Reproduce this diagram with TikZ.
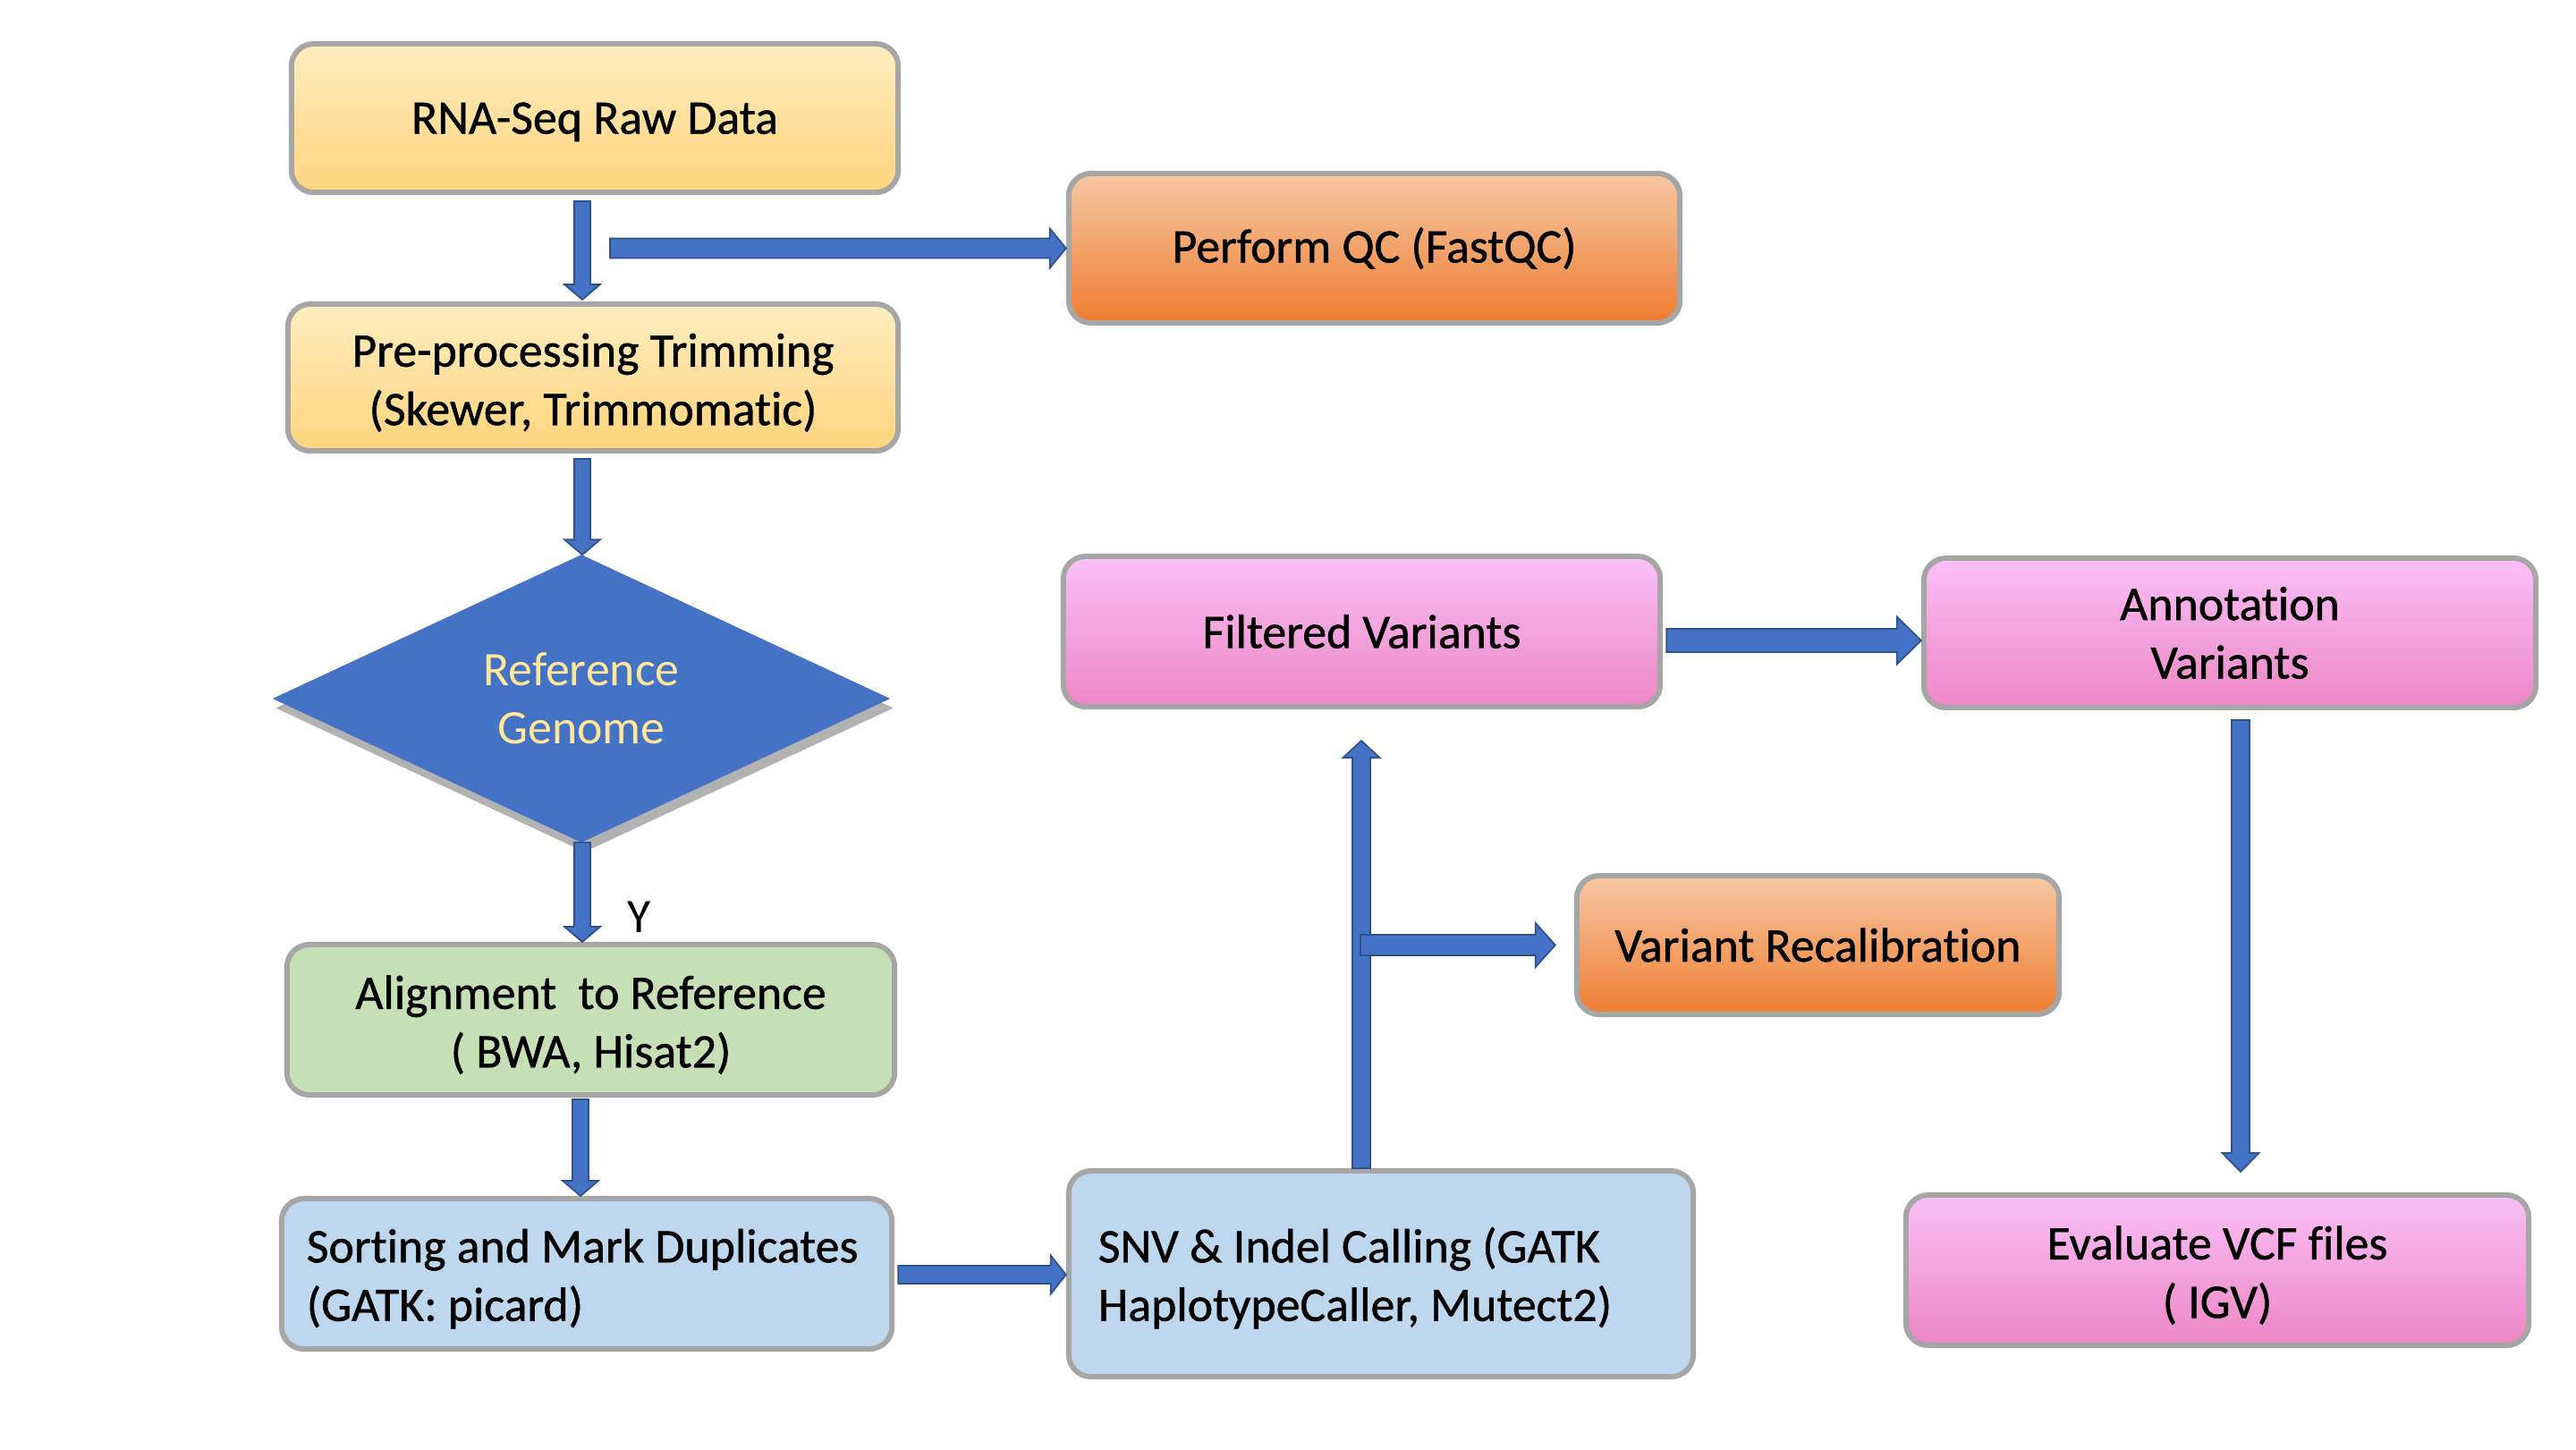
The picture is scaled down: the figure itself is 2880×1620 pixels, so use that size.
\documentclass[tikz,border=0pt]{standalone}
\usepackage{fontspec}
\setmainfont{Carlito}[Ligatures=NoCommon]
\newfontfamily\boxfont{Carlito}[FakeBold=0.9, Ligatures=NoCommon]
\usetikzlibrary{shapes.geometric,calc,shadows}
\definecolor{bordergray}{RGB}{166,166,166}
\definecolor{arrowblue}{RGB}{68,114,196}
\definecolor{arrowedge}{RGB}{47,82,143}
\definecolor{yeltop}{RGB}{255,237,192}
\definecolor{yelbot}{RGB}{255,212,125}
\definecolor{ortop}{RGB}{247,200,164}
\definecolor{orbot}{RGB}{237,125,49}
\definecolor{pktop}{RGB}{250,192,248}
\definecolor{pkbot}{RGB}{236,134,196}
\definecolor{grn}{RGB}{197,224,180}
\definecolor{lblue}{RGB}{189,215,238}
\definecolor{diatext}{RGB}{255,230,153}
\newcommand\strt{\rule{0pt}{13.8pt}}
% block arrow: #1 start, #2 tip, #3 half shaft, #4 half head, #5 head length
\newcommand\blkarrow[5]{%
  \coordinate (ba) at ($(#2)!#5!(#1)$);
  \filldraw[blkarr] ($(#1)!#3!90:(#2)$) -- ($(ba)!#3!90:(#2)$) -- ($(ba)!#4!90:(#2)$) -- (#2)
    -- ($(ba)!#4!-90:(#2)$) -- ($(ba)!#3!-90:(#2)$) -- ($(#1)!#3!-90:(#2)$) -- cycle;}
\begin{document}
\begin{tikzpicture}[x=0.01cm,y=-0.01cm,
  box/.style={draw=bordergray, line width=1.7pt, rounded corners=0.25cm, align=center,
    inner sep=0pt, outer sep=0pt, font=\boxfont\fontsize{15.3}{18.6}\selectfont, text=black},
  sz/.style 2 args={minimum width=#1, minimum height=#2},
  lowtext/.style={execute at begin node={\rule{0pt}{13.8pt}}},
  yel/.style={box, top color=yeltop, bottom color=yelbot},
  org/.style={box, top color=ortop, bottom color=orbot},
  pnk/.style={box, top color=pktop, bottom color=pkbot},
  grnbox/.style={box, fill=grn},
  bluebox/.style={box, fill=lblue},
  blkarr/.style={fill=arrowblue, draw=arrowedge, line width=0.5pt, line join=miter},
  decision/.style={diamond, fill=arrowblue, inner sep=0pt, outer sep=0pt, align=center,
    font=\fontsize{15.3}{18.6}\selectfont, text=diatext,
    drop shadow={shadow xshift=1pt, shadow yshift=-3pt, opacity=0.3, fill=black}},
  lbl/.style={font=\fontsize{15.3}{18.6}\selectfont, text=black, inner sep=0pt}]
\useasboundingbox (0,0) rectangle (2880,1620);

% nodes
\node[yel, sz={6.78cm}{1.66cm}, text depth=0pt] (rna) at (665,132) {RNA-Seq Raw Data};
\node[org, sz={6.83cm}{1.67cm}] (qc) at (1536.5,277.5) {Perform QC (FastQC)};
\node[yel, sz={6.82cm}{1.64cm}] (pre) at (663,422) {\strt Pre-processing Trimming\\(Skewer, Trimmomatic)};
\node[decision, minimum width=6.9cm, minimum height=3.18cm] (dia) at (650,781) {Reference\\Genome};
\node[grnbox, sz={6.79cm}{1.68cm}] (aln) at (660.5,1140) {\strt Alignment\ \ to Reference\\( BWA, Hisat2)};
\node[bluebox, sz={6.82cm}{1.68cm}, text width=6.26cm, align=flush left, lowtext] (sort) at (656,1424) {\mbox{Sorting and Mark Duplicates}\\\mbox{(GATK: picard)}};
\node[bluebox, sz={6.98cm}{2.30cm}, text width=6.32cm, align=flush left, lowtext] (snv) at (1544,1424) {\mbox{SNV \& Indel Calling (GATK}\\\mbox{HaplotypeCaller, Mutect2)}};
\node[pnk, sz={6.67cm}{1.68cm}] (filt) at (1522.5,706) {Filtered Variants};
\node[pnk, sz={6.84cm}{1.67cm}] (ann) at (2493,707.5) {Annotation\\Variants};
\node[org, sz={5.39cm}{1.55cm}] (recal) at (2032.5,1056.5) {Variant Recalibration};
\node[pnk, sz={6.96cm}{1.68cm}] (eval) at (2479,1420) {\strt Evaluate VCF files\\( IGV)};
\node[lbl] (ylab) at (715,1025) {Y};

% connector end points
\coordinate (a1s) at ($(rna.south)+(-14,10)$);
\coordinate (a1t) at ($(pre.north)+(-12,-5)$);
\coordinate (a2s) at ($(rna.south)+(17,62.5)$);
\coordinate (a2t) at ($(qc.west)+(-3,0)$);
\coordinate (a3s) at ($(pre.south)+(-12,9)$);
\coordinate (a3t) at ($(dia.north)+(1,0)$);
\coordinate (a4s) at ($(dia.south)+(1,0)$);
\coordinate (a4t) at ($(aln.north)+(-9.5,-3)$);
\coordinate (a5s) at ($(aln.south)+(-11.5,5)$);
\coordinate (a5t) at ($(sort.north)+(-7,-3)$);
\coordinate (a6s) at ($(sort.east)+(7,1)$);
\coordinate (a6t) at ($(snv.west)+(-3,1)$);
\coordinate (a7s) at ($(snv.north)+(-22,-3)$);
\coordinate (a7t) at ($(filt.south)+(-0.5,38)$);
\coordinate (a8s) at ($(snv.north)+(-23,-252.5)$);
\coordinate (a8t) at ($(recal.west)+(-24,0)$);
\coordinate (a9s) at ($(filt.east)+(7,10)$);
\coordinate (a9t) at ($(ann.west)+(-3,8.5)$);
\coordinate (a10s) at ($(ann.south)+(12,14)$);
\coordinate (a10t) at ($(eval.north)+(26,-26)$);

% connectors
\blkarrow{a1s}{a1t}{0.09cm}{0.20cm}{0.17cm}
\blkarrow{a2s}{a2t}{0.11cm}{0.22cm}{0.18cm}
\blkarrow{a3s}{a3t}{0.09cm}{0.20cm}{0.17cm}
\blkarrow{a4s}{a4t}{0.09cm}{0.20cm}{0.17cm}
\blkarrow{a5s}{a5t}{0.09cm}{0.20cm}{0.17cm}
\blkarrow{a6s}{a6t}{0.10cm}{0.215cm}{0.17cm}
\blkarrow{a7s}{a7t}{0.10cm}{0.205cm}{0.19cm}
\blkarrow{a8s}{a8t}{0.115cm}{0.245cm}{0.22cm}
\blkarrow{a9s}{a9t}{0.13cm}{0.265cm}{0.27cm}
\blkarrow{a10s}{a10t}{0.10cm}{0.205cm}{0.21cm}
\end{tikzpicture}
\end{document}
